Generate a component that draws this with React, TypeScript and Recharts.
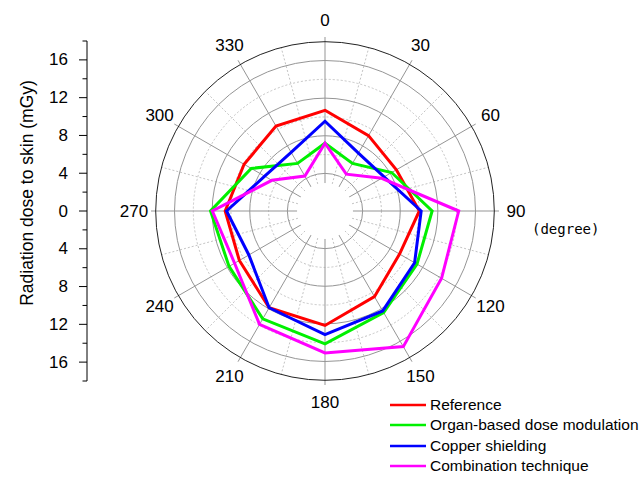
import React from 'react';
import {
  RadarChart,
  Radar,
  PolarGrid,
  PolarAngleAxis,
  PolarRadiusAxis,
  Legend,
  LineChart,
  XAxis,
  YAxis,
} from 'recharts';

// angle in degrees, clockwise from the top
const angles = [0, 30, 60, 90, 120, 150, 180, 210, 240, 270, 300, 330];

// skin dose (mGy) per tube angle
const reference = [11.0, 9.5, 9.0, 10.3, 9.4, 10.8, 12.5, 12.2, 10.8, 10.9, 10.2, 10.7];
const organBased = [7.4, 6.0, 8.4, 11.7, 11.6, 12.8, 14.5, 13.6, 12.1, 12.5, 9.3, 6.0];
const copperShielding = [9.8, 7.3, 7.45, 10.5, 11.3, 12.6, 13.5, 12.2, 9.6, 10.75, 7.6, 7.4];
const combination = [7.4, 4.65, 7.15, 14.6, 14.7, 17.1, 15.5, 14.3, 11.4, 12.3, 6.7, 4.4];

const seriesNames = ['Reference', 'Organ-based dose modulation', 'Copper shielding', 'Combination technique'];

// left dose axis runs 18 .. 0 .. 18 through the pole
const doseTicks = [-18, -16, -14, -12, -10, -8, -6, -4, -2, 0, 2, 4, 6, 8, 10, 12, 14, 16, 18];

const data = angles.map((angle, i) => ({
  angle,
  reference: reference[i],
  organ: organBased[i],
  copper: copperShielding[i],
  combination: combination[i],
}));

const FONT = '"Liberation Sans", Arial, sans-serif';
const RMAX = 18.5;
const OUTER = 174;
const px = (v: number) => (v * OUTER) / RMAX;
const toPolar = (deg: number) => 90 - deg;

const majorSpokes = angles.map(toPolar);
const minorSpokes = angles.map((a) => toPolar(a + 15));

const renderAngleTick = (props: any) => {
  const { x, y, payload } = props;
  return (
    <g>
      <text x={x} y={y} textAnchor="middle" dominantBaseline="central" fontSize={17} fontFamily={FONT} fill="#000">
        {payload.value}
      </text>
      {payload.value === 90 && (
        <text x={x + 16} y={y + 18} dominantBaseline="central" fontSize={14} fontFamily='"DejaVu Sans Mono", monospace' fill="#000">
          (degree)
        </text>
      )}
    </g>
  );
};

const renderDoseTick = (props: any) => {
  const { x, y, payload } = props;
  const v = payload.value as number;
  const major = v % 4 === 0 && Math.abs(v) <= 16;
  return (
    <g>
      <line x1={x - (major ? 8 : 4.5)} x2={x} y1={y} y2={y} stroke="#000" />
      {major && (
        <text x={x - 19} y={y} textAnchor="end" dominantBaseline="central" fontSize={17} fontFamily={FONT} fill="#000">
          {Math.abs(v)}
        </text>
      )}
    </g>
  );
};

const renderLegend = (props: any) => {
  const items = [...(props.payload || [])].sort(
    (a: any, b: any) => seriesNames.indexOf(a.value) - seriesNames.indexOf(b.value)
  );
  return (
    <div style={{ fontFamily: FONT }}>
      {items.map((item: any) => (
        <div key={item.value} style={{ display: 'flex', alignItems: 'center', height: 20.3 }}>
          <svg width={36} height={4} style={{ display: 'block' }}>
            <line x1={0} y1={2} x2={36} y2={2} stroke={item.color} strokeWidth={2.5} />
          </svg>
          <span style={{ marginLeft: 4, fontSize: 15.5, color: '#000', whiteSpace: 'nowrap' }}>{item.value}</span>
        </div>
      ))}
    </div>
  );
};

export default function App() {
  return (
    <div style={{ position: 'absolute', left: 0, top: 0, width: 641, height: 477, background: '#fff', fontFamily: FONT }}>
      <div style={{ position: 'absolute', left: 0, top: 0 }}>
        <LineChart width={120} height={420} data={doseTicks.map((v) => ({ v }))} margin={{ top: 41, bottom: 39, left: 0, right: 20 }}>
          <XAxis dataKey="v" hide />
          <YAxis
            type="number"
            domain={[-18, 18]}
            allowDataOverflow
            ticks={doseTicks}
            interval={0}
            width={87}
            tickSize={0}
            tickMargin={0}
            stroke="#000"
            tick={renderDoseTick}
          />
        </LineChart>
      </div>

      <div
        style={{
          position: 'absolute',
          left: 27,
          top: 193,
          transform: 'translate(-50%, -50%) rotate(-90deg)',
          whiteSpace: 'nowrap',
          fontSize: 17.5,
          color: '#000',
        }}
      >
        Radiation dose to skin (mGy)
      </div>

      <div style={{ position: 'absolute', left: 0, top: 0 }}>
        <RadarChart
          width={641}
          height={477}
          data={data}
          cx={325}
          cy={211}
          outerRadius={OUTER}
          startAngle={90}
          endAngle={-270}
          margin={{ top: 0, right: 0, bottom: 0, left: 0 }}
        >
          {/* dotted minor rings and spokes */}
          <PolarGrid gridType="circle" polarRadius={[6, 10, 14].map(px)} polarAngles={minorSpokes} stroke="#c4c4c4" strokeDasharray="2 2" />
          {/* clear the band outside the outer ring, so only the major ticks stick out */}
          <PolarGrid gridType="circle" polarRadius={[px(18) + 3]} radialLines={false} stroke="#fff" strokeWidth={6} />
          {/* solid rings and spokes */}
          <PolarGrid gridType="circle" polarRadius={[4, 8, 12, 16].map(px)} polarAngles={majorSpokes} stroke="#959595" />
          {/* empty hole round the pole */}
          <PolarGrid gridType="circle" polarRadius={[14]} radialLines={false} stroke="#fff" strokeWidth={28} />
          <PolarGrid gridType="circle" polarRadius={[px(18)]} radialLines={false} stroke="#222" />

          <PolarAngleAxis dataKey="angle" axisLine={false} tickLine={false} tickSize={17} tick={renderAngleTick} />
          <PolarRadiusAxis type="number" domain={[0, RMAX]} tick={false} axisLine={false} />

          <Radar name={seriesNames[0]} dataKey="reference" stroke="#ff0000" fill="none" strokeWidth={3} dot={false} isAnimationActive={false} />
          <Radar name={seriesNames[1]} dataKey="organ" stroke="#00f000" fill="none" strokeWidth={3} dot={false} isAnimationActive={false} />
          <Radar name={seriesNames[2]} dataKey="copper" stroke="#0000ff" fill="none" strokeWidth={3} dot={false} isAnimationActive={false} />
          <Radar name={seriesNames[3]} dataKey="combination" stroke="#ff00ff" fill="none" strokeWidth={3} dot={false} isAnimationActive={false} />

          <Legend
            content={renderLegend}
            layout="vertical"
            align="center"
            verticalAlign="bottom"
            wrapperStyle={{ left: 390, top: 395, width: 260 }}
          />
        </RadarChart>
      </div>
    </div>
  );
}
